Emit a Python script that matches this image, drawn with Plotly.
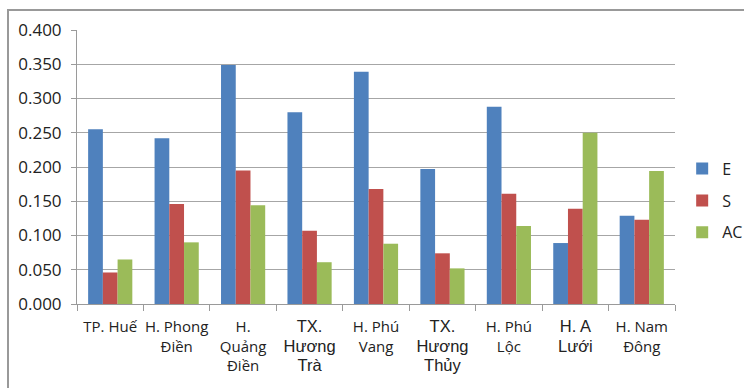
import plotly.graph_objects as go

categories = ["TP. Huế", "H. Phong Điền", "H. Quảng Điền", "TX. Hương Trà", "H. Phú Vang",
              "TX. Hương Thủy", "H. Phú Lộc", "H. A Lưới", "H. Nam Đông"]
tick_lines = [["TP. Huế"], ["H. Phong", "Điền"], ["H.", "Quảng", "Điền"], ["TX.", "Hương", "Trà"],
              ["H. Phú", "Vang"], ["TX.", "Hương", "Thủy"], ["H. Phú", "Lộc"], ["H. A", "Lưới"],
              ["H. Nam", "Đông"]]
big_labels = ["TX. Hương Trà", "TX. Hương Thủy", "H. A Lưới"]

E = [0.255, 0.242, 0.349, 0.280, 0.339, 0.197, 0.288, 0.089, 0.129]
S = [0.046, 0.146, 0.195, 0.107, 0.168, 0.074, 0.161, 0.139, 0.123]
AC = [0.065, 0.090, 0.144, 0.061, 0.088, 0.052, 0.114, 0.250, 0.194]

series = [("E", E, "#4F81BD"), ("S", S, "#C0504D"), ("AC", AC, "#9BBB59")]

fig = go.Figure()
for i, (name, vals, col) in enumerate(series):
    fig.add_trace(go.Bar(x=categories, y=vals, name=name, marker_color=col,
                         marker_line_width=0, legendgroup=name))

ticktext = []
for c, lines in zip(categories, tick_lines):
    if c in big_labels:
        ticktext.append("<br>".join(
            '<span style="font-family:Arial;font-size:16.5px">' + l + "</span>" for l in lines))
    else:
        ticktext.append("<br>".join(lines))

fig.update_layout(
    width=744, height=388,
    margin=dict(l=77, r=69, t=30, b=84, autoexpand=False),
    paper_bgcolor="white", plot_bgcolor="white",
    barmode="group", bargap=0.335, bargroupgap=0,
    font=dict(family="Open Sans", size=15, color="#222222"),
    legend=dict(x=1.012, y=0.377, xanchor="left", yanchor="middle",
                font=dict(size=16), tracegroupgap=8, itemwidth=30),
    showlegend=True,
)
fig.update_xaxes(type="category", tickmode="array", tickvals=categories, ticktext=ticktext,
                 showline=True, linecolor="#9a9a9a", linewidth=1,
                 ticks="outside", tickson="boundaries", ticklen=6, tickcolor="#9a9a9a",
                 tickfont=dict(size=15), tickangle=0, ticklabelstandoff=9)
fig.update_yaxes(range=[0, 0.4], dtick=0.05, tickformat=".3f",
                 showgrid=True, gridcolor="#a6a6a6", gridwidth=1,
                 showline=True, linecolor="#9a9a9a", linewidth=1,
                 ticks="outside", ticklen=5, tickcolor="#9a9a9a",
                 tickfont=dict(size=17), zeroline=False, ticklabelstandoff=6)

fig.add_shape(type="rect", xref="paper", yref="paper",
              x0=(8 - 77) / 598, x1=1.3, y0=-0.5, y1=(304.3 - 10) / 274.3,
              line=dict(color="#999999", width=2), fillcolor="rgba(0,0,0,0)", layer="below")

fig.write_html("out.html")
